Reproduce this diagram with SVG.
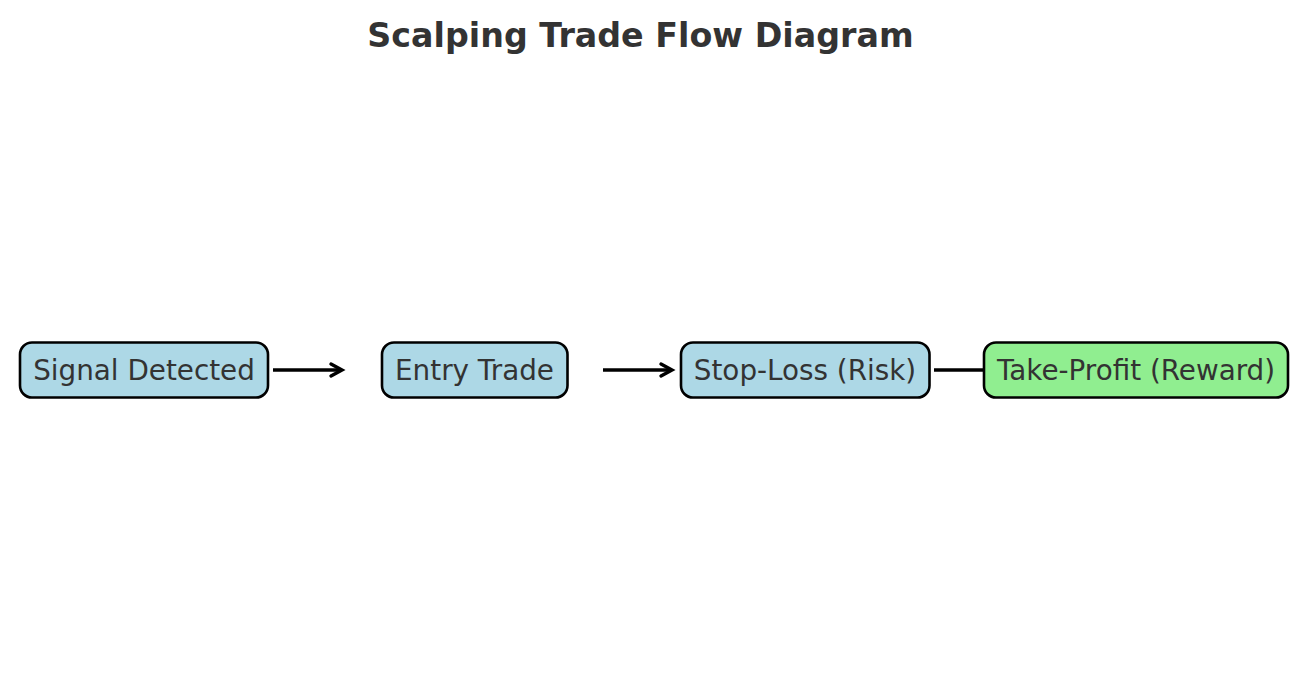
<svg xmlns="http://www.w3.org/2000/svg" width="1294" height="698" viewBox="0 0 1294 698">
<style>
.box{stroke:#000;stroke-width:2.6}
.blue{fill:#ADD8E6}
.green{fill:#90EE90}
.lbl{font-family:"DejaVu Sans",sans-serif;font-size:27.8px;fill:#333;text-anchor:middle}
.title{font-family:"DejaVu Sans",sans-serif;font-size:33.3px;font-weight:bold;fill:#333;text-anchor:middle}
.conn{stroke:#000;stroke-width:3.4;fill:none}
.head{stroke:#000;stroke-width:3.4;fill:none;stroke-linecap:round;stroke-linejoin:miter}
</style>
<rect width="1294" height="698" fill="#fff"/>
<text class="title" x="640.5" y="46.5">Scalping Trade Flow Diagram</text>
<g id="connectors">
<line class="conn" x1="273" y1="370" x2="342" y2="370"/>
<polyline class="head" points="331,364 342,370 331,376"/>
<line class="conn" x1="603" y1="370" x2="672" y2="370"/>
<polyline class="head" points="661,364 672,370 661,376"/>
<line class="conn" x1="934" y1="370" x2="984" y2="370"/>
</g>
<g id="signal">
<rect class="box blue" x="20" y="342.5" width="248" height="55" rx="12"/>
<text class="lbl" x="144" y="379.5">Signal Detected</text>
</g>
<g id="entry">
<rect class="box blue" x="382" y="342.5" width="185.5" height="55" rx="12"/>
<text class="lbl" x="474.5" y="379.5">Entry Trade</text>
</g>
<g id="stoploss">
<rect class="box blue" x="681" y="342.5" width="248.5" height="55" rx="12"/>
<text class="lbl" x="805" y="379.5">Stop-Loss (Risk)</text>
</g>
<g id="takeprofit">
<rect class="box green" x="984" y="342.5" width="304" height="55" rx="12"/>
<text class="lbl" x="1136" y="379.5">Take-Profit (Reward)</text>
</g>
</svg>
